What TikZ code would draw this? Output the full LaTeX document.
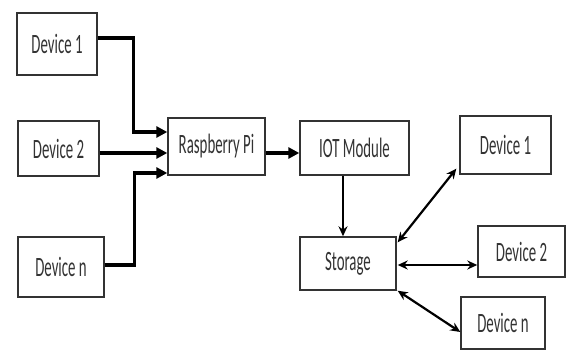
\documentclass[tikz,border=0pt]{standalone}
\usepackage{fontspec}
\setmainfont{Carlito}
\newfontfamily\narrowfont[FakeStretch=0.53]{Carlito}
\usepackage{xcolor}
\usetikzlibrary{arrows.meta, positioning, calc}

\begin{document}
\begin{tikzpicture}[
    x=1pt, y=-1pt,
    box/.style={rectangle, draw=black!80, line width=1.4pt, fill=white, text=black!80,
                inner sep=0pt, font=\narrowfont\fontsize{28}{30}\selectfont},
    feed/.style={-{Triangle[length=11pt, width=11pt]}, line width=3.5pt, color=black},
    link/.style={{Stealth[length=10pt, width=9pt]}-{Stealth[length=10pt, width=9pt]}, line width=2.2pt, color=black}
]
\useasboundingbox (0,0) rectangle (566,350);
% sensors on the left
\node[box, minimum width=80pt, minimum height=62pt] (dl1) at (57,44)    {Device 1};
\node[box, minimum width=81pt, minimum height=55pt] (dl2) at (58.5,148.5) {Device 2};
\node[box, minimum width=86pt, minimum height=60pt] (dln) at (61,267)   {Device n};
% processing chain
\node[box, minimum width=97pt, minimum height=57pt] (rpi) at (216.5,146.5) {Raspberry Pi};
\node[box, minimum width=109pt, minimum height=54pt] (iot) at (354.5,148) {IOT Module};
\node[box, minimum width=96pt, minimum height=53pt] (sto) at (348,263.5) {Storage};
% devices on the right
\node[box, minimum width=91pt, minimum height=58pt] (dr1) at (505.5,145) {Device 1};
\node[box, minimum width=87pt, minimum height=51pt] (dr2) at (521.5,251.5) {Device 2};
\node[box, minimum width=84pt, minimum height=52pt] (drn) at (503,323)  {Device n};
\draw[feed] ([yshift=6pt]dl1.east) -| ([xshift=-34pt, yshift=14.5pt]rpi.west) -- ([yshift=14.5pt]rpi.west);
\draw[feed, line width=4.5pt] ([yshift=-4.5pt]dl2.east) -- ([yshift=-6.5pt]rpi.west);
\draw[feed] ([yshift=2pt]dln.east) -| ([xshift=-33pt, yshift=-26.5pt]rpi.west) -- ([yshift=-26.5pt]rpi.west);
\draw[feed] ([yshift=-6.5pt]rpi.east) -- ([yshift=-5pt]iot.west);
\draw[-{Stealth[length=10pt, width=9pt]}, line width=2pt] ([xshift=-11.5pt]iot.south) -- ([xshift=-5pt]sto.north);
\draw[link] ([xshift=1pt, yshift=-6pt]sto.north east) -- ([xshift=-3pt, yshift=6pt]dr1.south west);
\draw[link] ([xshift=1pt, yshift=-1.5pt]sto.east) -- ([yshift=-13.5pt]dr2.west);
\draw[link] ([xshift=1pt]sto.south east) -- ([yshift=-9pt]drn.west);
\end{tikzpicture}
\end{document}
